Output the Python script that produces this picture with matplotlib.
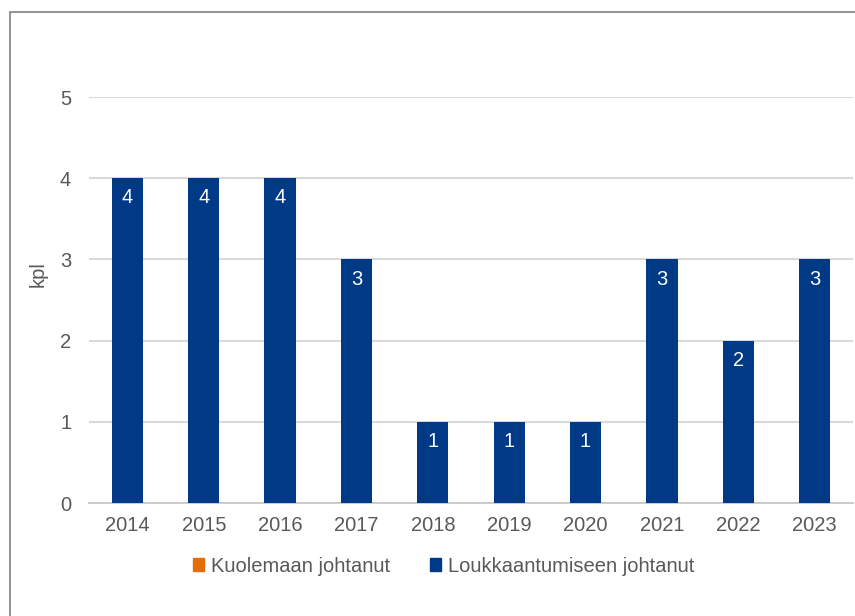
import numpy as np
import matplotlib.pyplot as plt
from matplotlib.patches import Rectangle, Patch

plt.rcParams['font.family'] = ['Liberation Sans', 'DejaVu Sans']

# data
years = ['2014', '2015', '2016', '2017', '2018', '2019', '2020', '2021', '2022', '2023']
kuolemaan = [0, 0, 0, 0, 0, 0, 0, 0, 0, 0]
loukkaantumiseen = [4, 4, 4, 3, 1, 1, 1, 3, 2, 3]

orange = '#E46C0A'
blue = '#003A87'
gray_txt = '#595959'
fs = 14.5

fig = plt.figure(figsize=(8.55, 6.16), dpi=100)
ax = fig.add_axes([0.1044, 0.1834, 0.893, 0.6591])

x = np.arange(len(years))
w = 0.41
b1 = ax.bar(x, kuolemaan, w, color=orange, zorder=3)
b2 = ax.bar(x, loukkaantumiseen, w, bottom=kuolemaan, color=blue, zorder=3)
ax.bar_label(b2, labels=[str(v) for v in loukkaantumiseen], label_type='edge',
             padding=-21, color='white', fontsize=fs)

ax.set_xlim(-0.5, len(years) - 0.5)
ax.set_ylim(0, 5)
ax.set_yticks(range(6))
ax.set_xticks(x)
ax.set_xticklabels(years)
ax.yaxis.grid(True, color='#D9D9D9', lw=1.5, zorder=0)
ax.set_axisbelow(True)
for s in ['top', 'right', 'left']:
    ax.spines[s].set_visible(False)
ax.spines['bottom'].set_color('#C8C8C8')
ax.spines['bottom'].set_linewidth(1.3)
ax.tick_params(length=0, labelsize=fs, colors=gray_txt, pad=9)
ax.tick_params(axis='y', pad=13)
fig.text(38 / 855, 1 - 274 / 616, 'kpl', rotation=90, ha='center', va='center',
         fontsize=fs, color=gray_txt)

handles = [Patch(color=orange, label='Kuolemaan johtanut'),
           Patch(color=blue, label='Loukkaantumiseen johtanut')]
fig.legend(handles=handles, loc='center', bbox_to_anchor=(0.519, 0.081), ncol=2,
           frameon=False, fontsize=fs, labelcolor=gray_txt, handlelength=0.55,
           handleheight=0.55, handletextpad=0.35, columnspacing=2.0)

# outer frame (cut off at right and bottom)
fig.patches.append(Rectangle((10 / 855, -0.1), 1.2, 1.1 - 12 / 616, transform=fig.transFigure,
                             fill=False, edgecolor='#7F7F7F', lw=1.2))

fig.savefig('out.png', dpi=100)
